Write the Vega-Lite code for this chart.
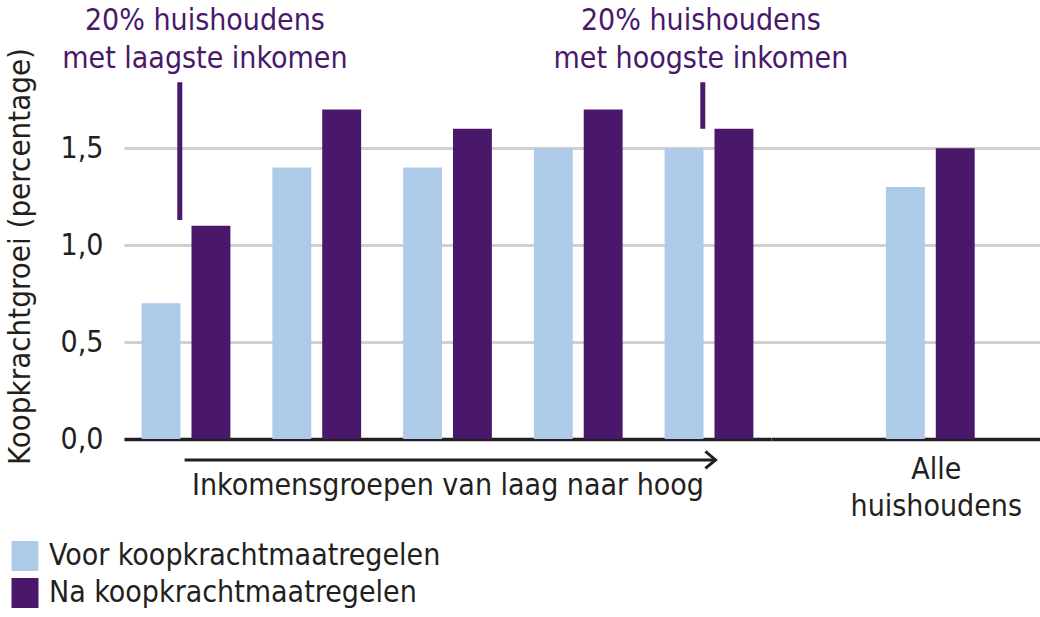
{
  "$schema": "https://vega.github.io/schema/vega-lite/v6.json",
  "padding": {"left": 4, "top": 6, "right": 0, "bottom": 0},
  "background": "white",
  "config": {
    "view": {"stroke": null},
    "font": "DejaVu Sans Condensed, Roboto, sans-serif",
    "axis": {"labelFont": "DejaVu Sans Condensed, Roboto, sans-serif", "titleFont": "DejaVu Sans Condensed, Roboto, sans-serif"},
    "legend": {"labelFont": "DejaVu Sans Condensed, Roboto, sans-serif"}
  },
  "data": {
    "values": [
      {"group": "Groep 1", "series": "Voor koopkrachtmaatregelen", "value": 0.7},
      {"group": "Groep 1", "series": "Na koopkrachtmaatregelen", "value": 1.1},
      {"group": "Groep 2", "series": "Voor koopkrachtmaatregelen", "value": 1.4},
      {"group": "Groep 2", "series": "Na koopkrachtmaatregelen", "value": 1.7},
      {"group": "Groep 3", "series": "Voor koopkrachtmaatregelen", "value": 1.4},
      {"group": "Groep 3", "series": "Na koopkrachtmaatregelen", "value": 1.6},
      {"group": "Groep 4", "series": "Voor koopkrachtmaatregelen", "value": 1.5},
      {"group": "Groep 4", "series": "Na koopkrachtmaatregelen", "value": 1.7},
      {"group": "Groep 5", "series": "Voor koopkrachtmaatregelen", "value": 1.5},
      {"group": "Groep 5", "series": "Na koopkrachtmaatregelen", "value": 1.6},
      {"group": "Alle huishoudens", "series": "Voor koopkrachtmaatregelen", "value": 1.3},
      {"group": "Alle huishoudens", "series": "Na koopkrachtmaatregelen", "value": 1.5}
    ]
  },
  "hconcat": [
    {
      "width": 647,
      "height": 349,
      "layer": [
        {
          "transform": [{"filter": "datum.group != 'Alle huishoudens'"}],
          "mark": {"type": "bar"},
          "encoding": {
            "x": {
              "field": "group", "type": "nominal",
              "scale": {"domain": ["Groep 1", "Groep 2", "Groep 3", "Groep 4", "Groep 5"], "paddingInner": 0.321, "paddingOuter": 0.1347},
              "axis": {
                "labels": false, "ticks": false, "domain": true,
                "domainColor": "#231f20", "domainWidth": 3.5,
                "title": "Inkomensgroepen van laag naar hoog",
                "titleFontSize": 30, "titleFontWeight": "normal", "titleColor": "#231f20",
                "titlePadding": 31
              }
            },
            "xOffset": {
              "field": "series", "type": "nominal",
              "scale": {"domain": ["Voor koopkrachtmaatregelen", "Na koopkrachtmaatregelen"], "paddingInner": 0.22, "paddingOuter": 0}
            },
            "y": {
              "field": "value", "type": "quantitative",
              "scale": {"domain": [0, 1.8], "nice": false},
              "axis": {
                "values": [0, 0.5, 1, 1.5],
                "labelExpr": "replace(format(datum.value, '.1f'), '.', ',')",
                "ticks": false, "domain": false,
                "grid": true, "gridColor": "#d0d0d0", "gridWidth": 3,
                "labelFontSize": 30, "labelColor": "#231f20", "labelPadding": 21,
                "title": "Koopkrachtgroei (percentage)",
                "titleFontSize": 31, "titleFontWeight": "normal", "titleColor": "#231f20",
                "titlePadding": 24, "titleY": 166
              }
            },
            "color": {
              "field": "series", "type": "nominal",
              "scale": {"domain": ["Voor koopkrachtmaatregelen", "Na koopkrachtmaatregelen"], "range": ["#aecae9", "#4a186b"]},
              "legend": {
                "orient": "none", "legendX": -114, "legendY": 451,
                "title": null, "direction": "vertical",
                "labelFontSize": 30, "labelColor": "#231f20", "labelLimit": 800,
                "symbolType": "M-0.9,-1H0.9V1H-0.9Z", "symbolSize": 900, "symbolStrokeWidth": 0,
                "rowPadding": 7, "labelOffset": 9
              }
            }
          }
        },
        {
          "data": {"values": [{"group": "Groep 1"}]},
          "mark": {"type": "rule", "strokeWidth": 5, "color": "#4a186b"},
          "encoding": {
            "x": {"field": "group", "type": "nominal", "bandPosition": 0.43},
            "y": {"datum": 1.84},
            "y2": {"datum": 1.13}
          }
        },
        {
          "data": {"values": [{"group": "Groep 5"}]},
          "mark": {"type": "rule", "strokeWidth": 5, "color": "#4a186b"},
          "encoding": {
            "x": {"field": "group", "type": "nominal", "bandPosition": 0.43},
            "y": {"datum": 1.84},
            "y2": {"datum": 1.6}
          }
        },
        {
          "data": {"values": [{"group": "Groep 1", "label": "20% huishoudens\nmet laagste inkomen"}]},
          "mark": {"type": "text", "fontSize": 30, "color": "#4a186b", "align": "center", "baseline": "alphabetic", "lineBreak": "\n", "lineHeight": 38},
          "encoding": {
            "x": {"field": "group", "type": "nominal", "bandPosition": 0.713},
            "y": {"datum": 2.107},
            "text": {"field": "label"}
          }
        },
        {
          "data": {"values": [{"group": "Groep 5", "label": "20% huishoudens\nmet hoogste inkomen"}]},
          "mark": {"type": "text", "fontSize": 30, "color": "#4a186b", "align": "center", "baseline": "alphabetic", "lineBreak": "\n", "lineHeight": 38},
          "encoding": {
            "x": {"field": "group", "type": "nominal", "bandPosition": 0.409},
            "y": {"datum": 2.107},
            "text": {"field": "label"}
          }
        },
        {
          "data": {"values": [{"group": "Groep 1", "end": "Groep 5"}]},
          "mark": {"type": "rule", "strokeWidth": 3, "color": "#231f20"},
          "encoding": {
            "x": {"field": "group", "type": "nominal", "bandPosition": 0.484},
            "x2": {"field": "end", "bandPosition": 0.574},
            "y": {"datum": -0.108}
          }
        },
        {
          "data": {"values": [{"group": "Groep 5"}]},
          "mark": {"type": "point", "shape": "M-1.2,-1L0,0L-1.2,1", "filled": false, "stroke": "#231f20", "strokeWidth": 3, "size": 289, "opacity": 1},
          "encoding": {
            "x": {"field": "group", "type": "nominal", "bandPosition": 0.574},
            "y": {"datum": -0.108}
          }
        }
      ]
    },
    {
      "width": 280,
      "height": 349,
      "transform": [{"filter": "datum.group == 'Alle huishoudens'"}],
      "mark": {"type": "bar"},
      "encoding": {
        "x": {
          "field": "group", "type": "nominal",
          "scale": {"paddingInner": 0.0711, "paddingOuter": 1, "align": 0.601},
          "axis": {
            "title": null, "ticks": false, "labelAngle": 0,
            "labelExpr": "split(datum.label, ' ')",
            "labelFontSize": 30, "labelColor": "#231f20", "labelLineHeight": 37, "labelLimit": 600,
            "labelPadding": 15, "labelOffset": 6,
            "domainColor": "#231f20", "domainWidth": 3.5
          }
        },
        "xOffset": {
          "field": "series", "type": "nominal",
          "scale": {"domain": ["Voor koopkrachtmaatregelen", "Na koopkrachtmaatregelen"], "paddingInner": 0.22, "paddingOuter": 0}
        },
        "y": {
          "field": "value", "type": "quantitative",
          "scale": {"domain": [0, 1.8], "nice": false},
          "axis": {
            "values": [0, 0.5, 1, 1.5],
            "labels": false, "ticks": false, "domain": false, "title": null,
            "grid": true, "gridColor": "#d0d0d0", "gridWidth": 3
          }
        },
        "color": {
          "field": "series", "type": "nominal",
          "scale": {"domain": ["Voor koopkrachtmaatregelen", "Na koopkrachtmaatregelen"], "range": ["#aecae9", "#4a186b"]}
        }
      }
    }
  ],
  "spacing": -1,
  "bounds": "flush"
}
